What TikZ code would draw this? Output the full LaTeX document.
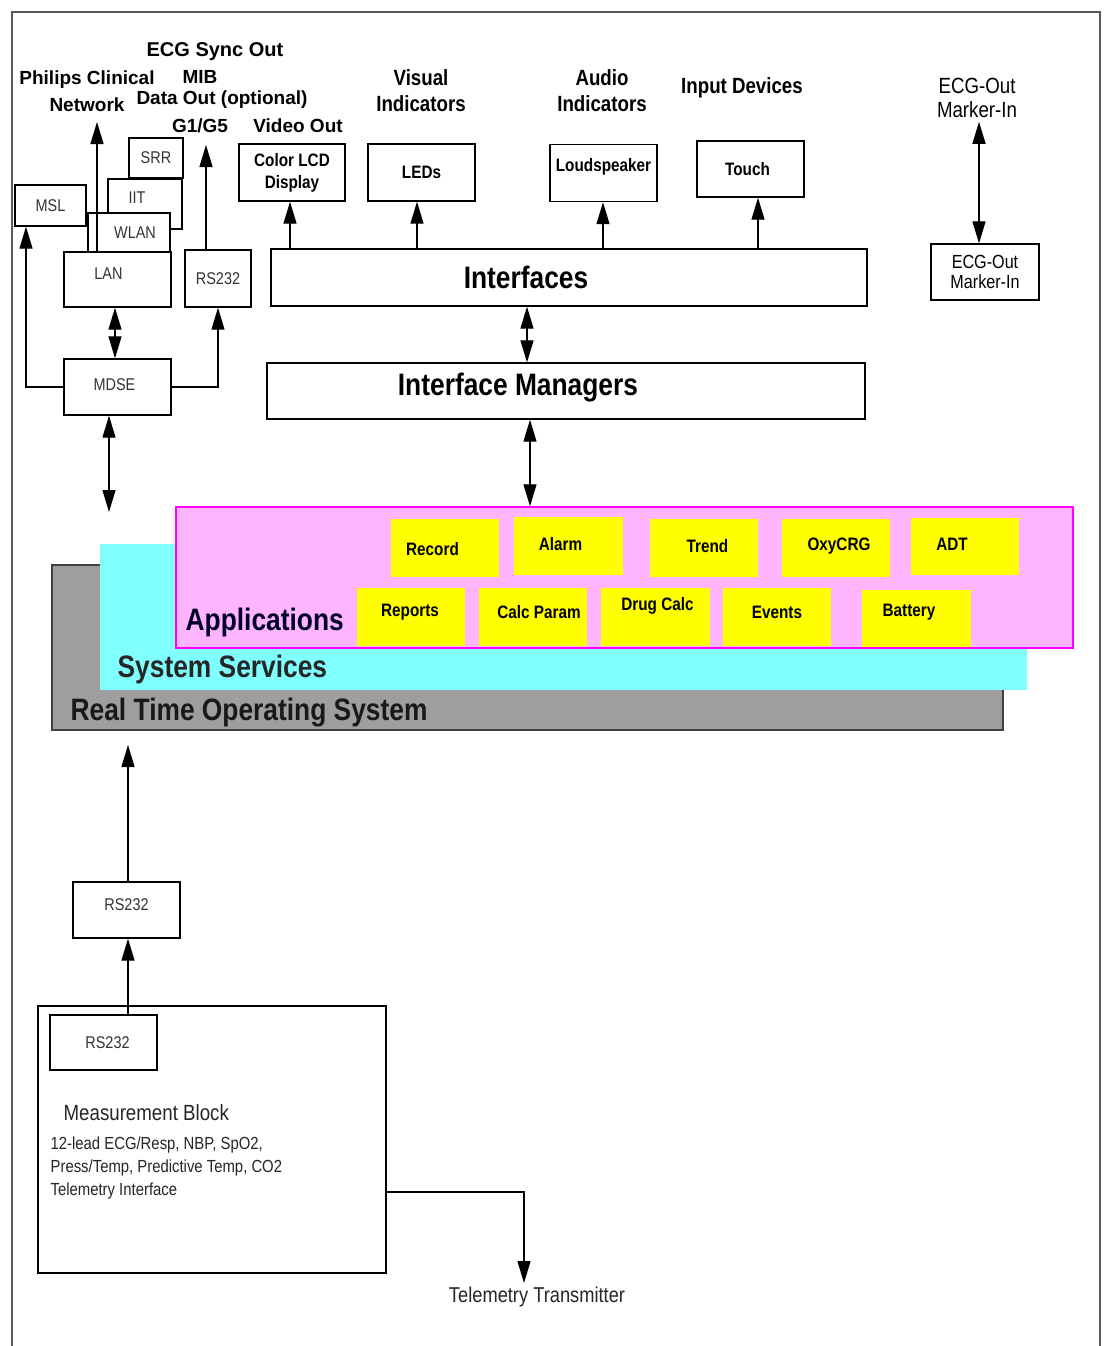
\documentclass[tikz,border=0pt]{standalone}
\usepackage{fontspec}
\setmainfont{Liberation Sans}
\newfontfamily\nar[FakeStretch=0.85]{Liberation Sans}
\usetikzlibrary{arrows.meta,calc}
\definecolor{cyanl}{RGB}{128,255,255}
\definecolor{pinkl}{RGB}{255,180,255}
\definecolor{mag}{RGB}{255,0,255}
\definecolor{yel}{RGB}{255,255,0}
\definecolor{rtosg}{RGB}{158,158,158}
\begin{document}
\begin{tikzpicture}[x=1pt,y=-1pt,line width=1.3pt,
  >={Triangle[length=22pt,width=13pt]},
  box/.style={draw, fill=white, inner sep=0pt, line width=1.4pt},
  sbox/.style={box, font=\nar\fontsize{17}{19}\selectfont, text=black!80},
  slbl/.style={font=\nar\fontsize{17}{19}\selectfont, text=black!80},
  bbox/.style={box, font=\nar\bfseries\fontsize{18}{22}\selectfont, align=center},
  ybox/.style={fill=yel, inner sep=0pt},
  ylbl/.style={font=\nar\bfseries\fontsize{18}{21}\selectfont},
  toplbl/.style={font=\bfseries\fontsize{19}{26}\selectfont, align=center, inner sep=1pt},
  nlbl/.style={font=\nar\bfseries\fontsize{22}{26}\selectfont, align=center, inner sep=1pt},
  big/.style={font=\nar\bfseries\fontsize{31}{36}\selectfont, inner sep=0pt},
  biglbl/.style={font=\nar\bfseries\fontsize{31}{36}\selectfont},
]
\useasboundingbox (0,0) rectangle (1103,1346);
% outer frame
\draw[black!65, line width=1.5pt] (12,1346) -- (12,12) -- (1100,12) -- (1100,1346);

% top labels
\node[toplbl, font=\bfseries\fontsize{20}{24}\selectfont] (ecgsync) at (215,52) {ECG Sync Out};
\node[toplbl, font=\bfseries\fontsize{19}{27}\selectfont] (philips) at (87,91) {Philips Clinical\\Network};
\node[toplbl] (mib) at (200,77) {MIB};
\node[toplbl] (dataout) at (222,100) {Data Out (optional)};
\node[toplbl] (g1g5) at (200,126) {G1/G5};
\node[toplbl] (video) at (298,126) {Video Out};
\node[nlbl] (visual) at (421,91) {Visual\\Indicators};
\node[nlbl] (audio) at (602,91) {Audio\\Indicators};
\node[nlbl] (input) at (742,88) {Input Devices};
\node[font=\nar\fontsize{22}{24}\selectfont, align=center] (ecglbl) at (977,98) {ECG-Out\\Marker-In};

% left network boxes
\node[sbox, minimum width=54, minimum height=40, label={[slbl]center:SRR}] (srr) at (156,158) {};
\node[sbox, minimum width=74, minimum height=50, label={[slbl,xshift=-8,yshift=6]center:IIT}] (iit) at (145,204) {};
\node[sbox, minimum width=82, minimum height=39, label={[slbl,xshift=6]center:WLAN}] (wlan) at (129,232.5) {};
\node[sbox, minimum width=107, minimum height=55, label={[slbl,xshift=-9,yshift=6]center:LAN}] (lan) at (117.5,279.5) {};
\node[sbox, minimum width=71, minimum height=41] (msl) at (50.5,205.5) {MSL};
\node[sbox, minimum width=66, minimum height=57] (rsa) at (218,278.5) {RS232};
\node[sbox, minimum width=107, minimum height=56, label={[slbl,xshift=-3,yshift=2]center:MDSE}] (mdse) at (117.5,387) {};

% output device boxes
\node[bbox, minimum width=106, minimum height=57] (lcd) at (292,172.5) {Color LCD\\Display};
\node[bbox, minimum width=107, minimum height=57] (leds) at (421.5,172.5) {LEDs};
\node[bbox, minimum width=107, minimum height=57, label={[ylbl,yshift=6]center:Loudspeaker}] (spk) at (603.5,173) {};
\node[bbox, minimum width=107, minimum height=56, label={[ylbl,xshift=-3]center:Touch}] (touch) at (750.5,169) {};
\node[box, minimum width=596, minimum height=57, label={[biglbl,xshift=-43]center:Interfaces}] (ifc) at (569,277.5) {};
\node[box, minimum width=598, minimum height=56, label={[biglbl,xshift=-48,yshift=3]center:Interface Managers}] (im) at (566,391) {};
\node[box, minimum width=108, minimum height=56, font=\nar\fontsize{19}{20}\selectfont, align=center] (ecgbox) at (985,272) {ECG-Out\\Marker-In};

% layers
\node[fill=rtosg, draw=black!75, line width=1.5pt, inner sep=0pt, minimum width=951, minimum height=165] (rtos) at (527.5,647.5) {};
\node[fill=cyanl, inner sep=0pt, minimum width=927, minimum height=146] (sys) at (563.5,617) {};
\node[fill=pinkl, draw=mag, line width=1.5pt, inner sep=0pt, minimum width=897, minimum height=141] (apps) at (624.5,577.5) {};
\node[big, anchor=base west, text=black!85!blue] (appslbl) at (185,630) {Applications};
\node[big, anchor=base west, text=black!85] (syslbl) at (117,677) {System Services};
\node[big, anchor=base west, text=black!90] (rtoslbl) at (70,720) {Real Time Operating System};

% application boxes
\node[ybox, minimum width=108, minimum height=58, label={[ylbl,xshift=-12,yshift=-1]center:Record}] (record) at (444.5,548) {};
\node[ybox, minimum width=109, minimum height=58, label={[ylbl,xshift=-8,yshift=2]center:Alarm}] (alarm) at (568.5,546) {};
\node[ybox, minimum width=108, minimum height=58, label={[ylbl,xshift=4,yshift=2]center:Trend}] (trend) at (703.5,548) {};
\node[ybox, minimum width=108, minimum height=58, label={[ylbl,xshift=3,yshift=2]center:OxyCRG}] (oxy) at (836,548) {};
\node[ybox, minimum width=108, minimum height=57, label={[ylbl,xshift=-13,yshift=2]center:ADT}] (adt) at (965,546.5) {};
\node[ybox, minimum width=108, minimum height=58, label={[ylbl,xshift=-1,yshift=5]center:Reports}] (reports) at (411,617) {};
\node[ybox, minimum width=108, minimum height=58, label={[ylbl,xshift=6,yshift=5]center:Calc Param}] (calc) at (533,617) {};
\node[ybox, minimum width=109, minimum height=58, label={[ylbl,xshift=2,yshift=11]center:Drug Calc}] (drug) at (655.5,617) {};
\node[ybox, minimum width=108, minimum height=58, label={[ylbl,yshift=5]center:Events}] (events) at (777,617) {};
\node[ybox, minimum width=109, minimum height=57, label={[ylbl,xshift=-7,yshift=6]center:Battery}] (battery) at (916,618.5) {};

% lower part
\node[sbox, minimum width=107, minimum height=56, label={[slbl,yshift=5]center:RS232}] (rsb) at (126.5,910) {};
\node[box, minimum width=348, minimum height=267] (meas) at (212,1139.5) {};
\node[sbox, minimum width=107, minimum height=55, label={[slbl,xshift=4]center:RS232}] (rsc) at (103.5,1042.5) {};
\node[anchor=west, inner sep=0pt, font=\nar\fontsize{22}{24}\selectfont, text=black!85] (measlbl) at (63,1113) {Measurement Block};
\node[anchor=west, inner sep=0pt, align=left, font=\nar\fontsize{17.5}{23}\selectfont, text=black!85] (measitems) at (50,1168) {12-lead ECG/Resp, NBP, SpO2,\\Press/Temp, Predictive Temp, CO2\\Telemetry Interface};
\node[font=\nar\fontsize{21.5}{24}\selectfont, text=black!85] (telem) at (537,1297) {Telemetry Transmitter};

% helper coordinates
\coordinate (netx) at (97,122);
\coordinate (g1x) at (206,145);
\coordinate (mslx) at (26,0);
\coordinate (lanx) at (115,0);
\coordinate (mdsed) at (109,512);
\coordinate (lcdx) at (290,0);
\coordinate (ledx) at (417,0);
\coordinate (spkx) at (603,0);
\coordinate (touchx) at (758,0);
\coordinate (ifx) at (527,0);
\coordinate (imx) at (530,0);
\coordinate (ecgx) at (979,0);
\coordinate (rtx) at (128,745);
\coordinate (tc) at (524,1192);

% connectors
\draw[->] (lan.north -| netx) -- (netx);
\draw[->] (rsa.north -| g1x) -- (g1x);
\draw[->] (mdse.east) -| (rsa.south);
\draw[->] (mdse.west) -| (msl.south -| mslx);
\draw[<->] (lan.south -| lanx) -- (mdse.north -| lanx);
\draw[<->] (mdse.south -| mdsed) -- (mdsed);
\draw[->] (ifc.north -| lcdx) -- (lcd.south -| lcdx);
\draw[->] (ifc.north -| ledx) -- (leds.south -| ledx);
\draw[->] (ifc.north -| spkx) -- (spk.south -| spkx);
\draw[->] (ifc.north -| touchx) -- (touch.south -| touchx);
\draw[<->] (ifc.south -| ifx) -- (im.north -| ifx);
\draw[<->] (im.south -| imx) -- (apps.north -| imx);
\draw[<->] (ecgbox.north -| ecgx) -- (ecglbl.south -| ecgx);
\draw[->] (rsb.north -| rtx) -- (rtx);
\draw[->] (rsc.north -| rtx) -- (rsb.south -| rtx);
\draw[->] (meas.east |- tc) -- (tc) -- (telem.north -| tc);
\end{tikzpicture}
\end{document}
